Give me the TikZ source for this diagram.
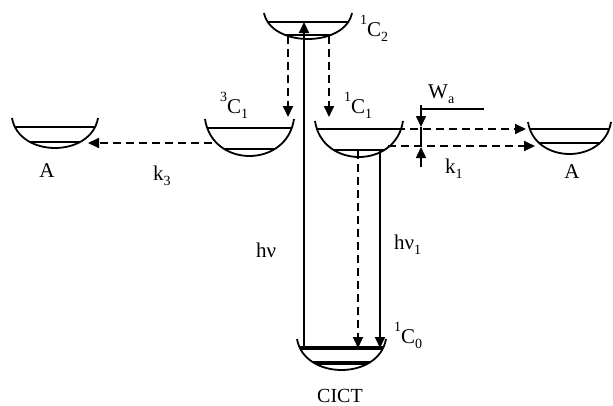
\documentclass[tikz,border=0pt]{standalone}
\usepackage{fontspec}
\setmainfont{Liberation Serif}
\usetikzlibrary{arrows.meta}
\newcommand{\up}[1]{\raisebox{12pt}{\fontsize{14}{15}\selectfont #1}}
\newcommand{\dn}[1]{\raisebox{-5pt}{\fontsize{14}{15}\selectfont #1}}
\newcommand{\bowl}[8]{%
  \coordinate (#8-l) at (#1,#3);
  \coordinate (#8-r) at (#2,#3);
  \begin{scope}
    \clip (#8-l) .. controls ({#1+0.08*(#2-#1)},{#3+1.333*#4}) and ({#2-0.08*(#2-#1)},{#3+1.333*#4}) .. (#8-r) -- cycle;
    \draw[line width=#7] (#1,#5) -- (#2,#5);
    \draw[line width=#7] (#1,#6) -- (#2,#6);
  \end{scope}
  \draw[bowlline] (#8-l) .. controls ({#1+0.08*(#2-#1)},{#3+1.333*#4}) and ({#2-0.08*(#2-#1)},{#3+1.333*#4}) .. (#8-r);
}
\tikzset{
  bowlline/.style={line width=1.8pt},
  tip/.style={-{Triangle[length=11pt,width=10pt]}},
  solidarr/.style={tip, line width=1.8pt},
  dasharr/.style={tip, line width=1.8pt, dash pattern=on 8pt off 5pt},
  lbl/.style={inner sep=0pt, anchor=base west, font=\fontsize{21}{23}\selectfont},
  clbl/.style={lbl, font=\fontsize{21}{23}\selectfont}
}
\begin{document}
\begin{tikzpicture}[x=1pt,y=-1pt]
\useasboundingbox (0,0) rectangle (613,405);
% wells
\bowl{264}{352}{13}{26}{22}{35}{1.8pt}{c2}
\bowl{205}{294}{119}{37}{128}{149}{1.8pt}{tc1}
\bowl{315}{403}{121}{36}{129}{150}{1.8pt}{sc1}
\bowl{12}{98}{118}{30}{127}{142}{1.8pt}{al}
\bowl{528}{611}{122}{32}{129}{143}{1.8pt}{ar}
\bowl{297}{386}{339}{31}{348}{363}{3.5pt}{c0}
% coordinates
\coordinate (hvb) at (304,348);
\coordinate (hvt) at (304,22);
\coordinate (d1a) at (288,36);
\coordinate (d1b) at (288,117);
\coordinate (d2a) at (329,36);
\coordinate (d2b) at (329,117);
\coordinate (d3a) at (358,151);
\coordinate (d3b) at (358,348);
\coordinate (s1a) at (380,151);
\coordinate (s1b) at (380,348);
\coordinate (k3a) at (212,143);
\coordinate (k3b) at (88,143);
\coordinate (r1a) at (397,129);
\coordinate (r1b) at (526,129);
\coordinate (r2a) at (388,146);
\coordinate (r2b) at (535,146);
\coordinate (wt) at (421,105);
\coordinate (wd) at (421,127);
\coordinate (wu) at (421,147);
\coordinate (wb) at (421,167);
\coordinate (wh1) at (421,109);
\coordinate (wh2) at (484,109);
% arrows
\draw[solidarr] (hvb) -- (hvt);
\draw[dasharr] (d1a) -- (d1b);
\draw[dasharr] (d2a) -- (d2b);
\draw[dasharr] (d3a) -- (d3b);
\draw[solidarr] (s1a) -- (s1b);
\draw[dasharr] (k3a) -- (k3b);
\draw[dasharr] (r1a) -- (r1b);
\draw[dasharr] (r2a) -- (r2b);
\draw[line width=1.5pt] (wd) -- (wu);
\draw[solidarr, line width=1.5pt] (wt) -- (wd);
\draw[solidarr, line width=1.5pt] (wb) -- (wu);
\draw[line width=1.2pt] (wh1) -- (wh2);
% labels
\node[clbl] (l1) at (360,36) {\up{1}C\dn{2}};
\node[clbl] (l2) at (220,113) {\up{3}C\dn{1}};
\node[clbl] (l3) at (344,113) {\up{1}C\dn{1}};
\node[clbl] (l4) at (394,343) {\up{1}C\dn{0}};
\node[lbl] (l5) at (428,98) {W\dn{a}};
\node[lbl] (l6) at (153,180) {k\dn{3}};
\node[lbl] (l7) at (445,173) {k\dn{1}};
\node[lbl] (l8) at (256,257) {hν};
\node[lbl] (l9) at (394,249) {hν\dn{1}};
\node[lbl, anchor=base] (l10) at (47,177) {A};
\node[lbl, anchor=base] (l11) at (572,178) {A};
\node[lbl, anchor=base, font=\fontsize{20}{22}\selectfont] (l12) at (340,402) {CICT};
\end{tikzpicture}
\end{document}
